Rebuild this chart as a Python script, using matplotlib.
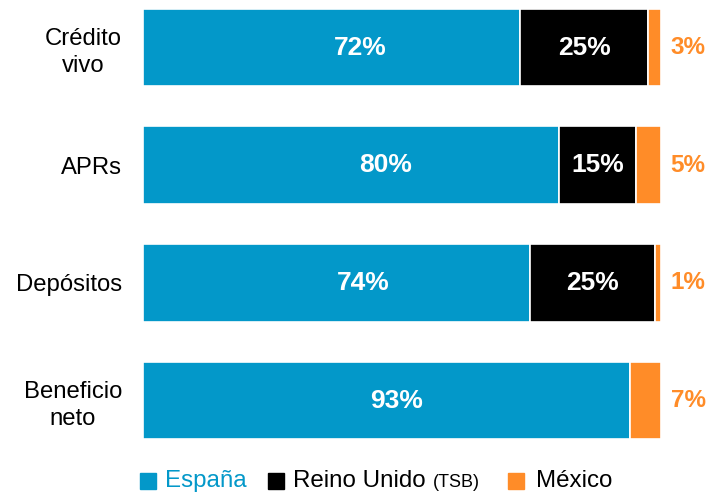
import matplotlib
matplotlib.use("Agg")

import matplotlib.pyplot as plt
import numpy as np
from matplotlib.patches import Rectangle

plt.rcParams["font.family"] = ["Liberation Sans", "DejaVu Sans"]

# data: segment widths as drawn in the source, and the printed labels
categories = ["Crédito\nvivo", "APRs", "Depósitos", "Beneficio\nneto"]
espana = [72.8, 80.3, 74.7, 94.0]
reino_unido = [24.7, 14.9, 24.1, 0.0]
mexico = [2.5, 4.8, 1.2, 6.0]
espana_labels = ["72%", "80%", "74%", "93%"]
reino_unido_labels = ["25%", "15%", "25%", ""]
mexico_labels = ["3%", "5%", "1%", "7%"]

# layout: horizontal nudge (points) of the España labels, as in the source
espana_label_shift = [21, 25, 19, 7]

BLUE = "#0398C9"
BLACK = "#000000"
ORANGE = "#FF8C28"


def main() -> None:
    fig = plt.figure(figsize=(7.09, 4.93), dpi=100)
    ax = fig.add_axes([0.2017, 0.092, 0.7306, 0.907])

    y = np.arange(len(categories))
    h = 0.66
    esp = np.array(espana)
    ru = np.array(reino_unido)
    mx = np.array(mexico)

    ax.barh(y, esp, h, color=BLUE, edgecolor="white", linewidth=1.2)
    ax.barh(y, ru, h, left=esp, color=BLACK, edgecolor="white", linewidth=1.2)
    ax.barh(y, mx, h, left=esp + ru, color=ORANGE, edgecolor="white", linewidth=1.2)

    for i in range(len(categories)):
        ax.annotate(espana_labels[i], xy=(esp[i] / 2, y[i]),
                    xytext=(espana_label_shift[i], 0), textcoords="offset points",
                    ha="center", va="center", color="white", fontsize=19,
                    fontweight="bold")
        if ru[i] > 0:
            ax.text(esp[i] + ru[i] / 2, y[i], reino_unido_labels[i], ha="center",
                    va="center", color="white", fontsize=19, fontweight="bold")
        ax.annotate(mexico_labels[i], xy=(esp[i] + ru[i] + mx[i], y[i]),
                    xytext=(7, 0), textcoords="offset points", ha="left",
                    va="center", color=ORANGE, fontsize=17.5, fontweight="bold")

    ax.set_xlim(0, 100)
    ax.set_ylim(3.4, -0.4)
    ax.set_yticks(y)
    ax.set_yticklabels(categories, fontsize=17.2, multialignment="center",
                       linespacing=1.3)
    ax.tick_params(axis="y", length=0, pad=15)
    ax.set_xticks([])
    for s in ax.spines.values():
        s.set_visible(False)

    # legend drawn by hand so "(TSB)" can be smaller
    W, H = 709, 493
    sq = 16
    yc = 481
    items = [(140, BLUE), (268, BLACK), (508, ORANGE)]
    for x0, c in items:
        fig.patches.append(Rectangle((x0 / W, (H - yc - sq / 2) / H), sq / W, sq / H,
                                     transform=fig.transFigure, color=c))
    ty = (H - yc) / H
    fig.text(165 / W, ty, "España", color=BLUE, fontsize=17.4, va="center")
    fig.text(293 / W, ty, "Reino Unido", color="black", fontsize=17.4, va="center")
    fig.text(433 / W, ty - 0.003, "(TSB)", color="black", fontsize=13, va="center")
    fig.text(536 / W, ty, "México", color="black", fontsize=17.4, va="center")

    fig.savefig("out.png", dpi=100)


if __name__ == "__main__":
    main()
